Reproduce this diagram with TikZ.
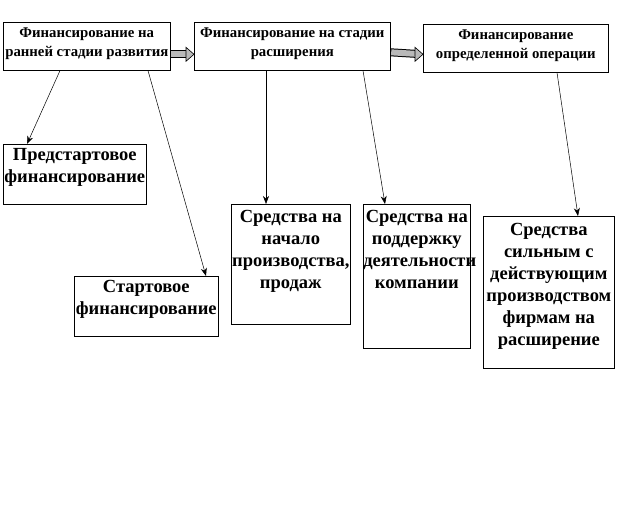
\documentclass[tikz,border=0pt]{standalone}
\usepackage{fontspec}
\setmainfont{Liberation Serif}
\usetikzlibrary{arrows.meta}
\tikzset{
  stage/.style={draw, line width=0.6pt, inner sep=0pt, anchor=north west,
    font=\bfseries\fontsize{14.8}{19}\selectfont},
  kind/.style={stage, font=\bfseries\fontsize{18.5}{22}\selectfont},
  feed/.style={line width=0.5pt, -{Stealth[length=8pt,width=6pt]}},
  bigarrow/.style={line width=8pt, shorten >=7pt,
    postaction={draw=gray!55, line width=6pt, shorten >=7.6pt, shorten <=0.6pt}},
  bighead/.style={draw, line width=0.6pt, fill=gray!55}
}
% box text, top aligned: width, height, top gap, lines
\newcommand{\boxtext}[4]{\begin{minipage}[t][#2][t]{#1}\vspace{#3}\centering #4\end{minipage}}

\begin{document}
\begin{tikzpicture}[x=1pt, y=-1pt]
\useasboundingbox (0,0) rectangle (618,516);

% --- stages ---
\node[stage] (early)  at (3,22)   {\boxtext{167pt}{48pt}{6pt}{Финансирование на\\ранней стадии развития}};
\node[stage] (expand) at (194,22) {\boxtext{196pt}{48pt}{6pt}{Финансирование на стадии\\расширения}};
\node[stage] (deal)   at (423,24) {\boxtext{185pt}{48pt}{6pt}{Финансирование\\определенной операции}};

% --- kinds of funds ---
\node[kind] (prestart) at (3,144)  {\boxtext{143pt}{60pt}{4pt}{Предстартовое\\финансирование}};
\node[kind] (start)    at (74,276) {\boxtext{144pt}{60pt}{4pt}{Стартовое\\финансирование}};
\node[kind] (launch)   at (231,204) {\boxtext{119pt}{120pt}{6pt}{Средства на\\начало\\производства,\\продаж}};
\node[kind] (support)  at (363,204) {\boxtext{107pt}{144pt}{6pt}{Средства на\\поддержку\\деятельности\\компании}};
\node[kind] (growth)   at (483,216) {\boxtext{131pt}{152pt}{7pt}{Средства\\сильным с\\действующим\\производством\\фирмам на\\расширение}};

% --- stage to stage ---
\draw[bigarrow] ([yshift=-8pt]early.east) -- ([yshift=-8pt]expand.west);
\draw[bighead] ([yshift=-8pt]expand.west) -- ([shift={(-8pt,-1pt)}]expand.west)
  -- ([shift={(-8pt,-15pt)}]expand.west) -- cycle;
\draw[bigarrow] ([yshift=-6pt]expand.east) -- ([yshift=-6pt]deal.west);
\draw[bighead] ([yshift=-6pt]deal.west) -- ([shift={(-8pt,1pt)}]deal.west)
  -- ([shift={(-8pt,-13pt)}]deal.west) -- cycle;

% --- stage to kind ---
\draw[feed] ([xshift=57pt]early.south west)   -- ([xshift=24pt]prestart.north west);
\draw[feed] ([xshift=145pt]early.south west)  -- ([xshift=132pt]start.north west);
\draw[feed] ([xshift=72pt]expand.south west)  -- ([xshift=35pt]launch.north west);
\draw[feed] ([xshift=169pt]expand.south west) -- ([xshift=22pt]support.north west);
\draw[feed] ([xshift=134pt]deal.south west)   -- ([xshift=95pt]growth.north west);

\end{tikzpicture}
\end{document}
